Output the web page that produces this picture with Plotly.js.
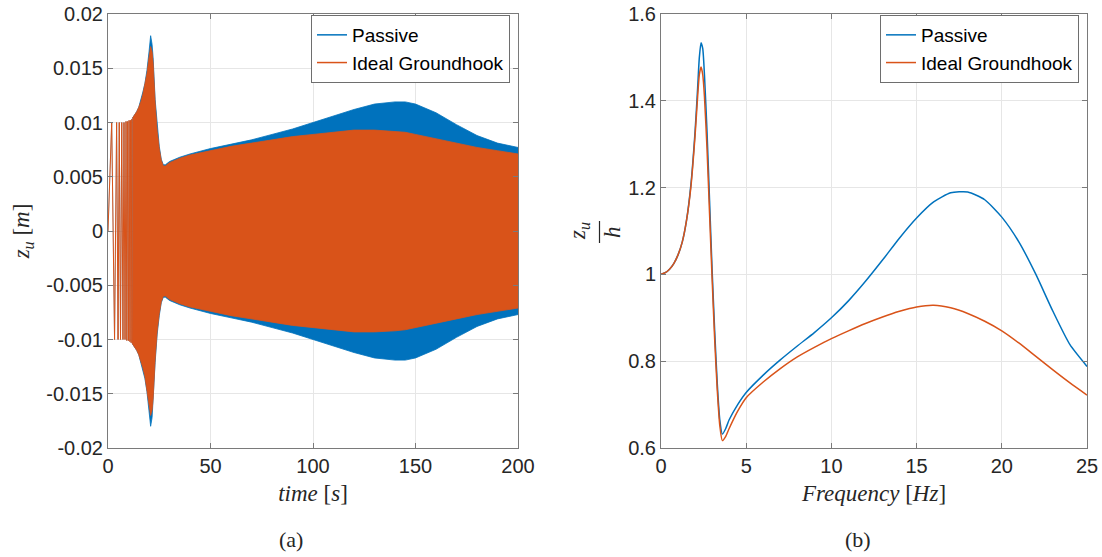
<!DOCTYPE html>
<html>
<head>
<meta charset="utf-8">
<script src="https://cdn.plot.ly/plotly-3.0.1.min.js"></script>
<style>
  html, body { margin: 0; padding: 0; background: #ffffff; }
  #chart { width: 1102px; height: 557px; }
</style>
</head>
<body>
<div id="chart"></div>
<script>
// ---- (a) time response: unsprung displacement envelope under a swept sine ----
// first cycles of the sweep are slow enough to show individually
const earlyTime = [0, 1.8, 3.2, 4.2, 4.9, 5.5, 6.1, 6.7, 7.3, 7.8, 8.3, 8.8, 9.2, 9.6, 10.0, 10.3, 10.7, 11.0, 11.3, 11.6, 11.9];
const earlyDisp = [0, 0.0100, -0.0100, 0.0100, -0.0100, 0.0100, -0.0100, 0.0100, -0.0100, 0.0100, -0.0100, 0.0101, -0.0101, 0.0101, -0.0101, 0.0102, -0.0102, 0.0102, -0.0103, 0.0103, -0.0104];

// amplitude envelope of the dense part of the record
const envTime = [11.9, 13, 14, 15, 16, 17, 18, 19, 20, 20.8, 21.5, 22, 23, 24, 25, 26, 27, 28, 30, 35, 40, 50, 60, 70, 80, 90, 100, 110, 120, 130, 140, 145, 150, 160, 170, 180, 190, 200];
const passiveEnv = [0.0104, 0.0107, 0.0110, 0.0114, 0.0120, 0.0128, 0.0136, 0.0148, 0.0165, 0.0180, 0.0172, 0.0160, 0.0121, 0.0095, 0.0078, 0.0066, 0.0061, 0.0061, 0.0064, 0.0068, 0.0071, 0.0076, 0.0080, 0.0084, 0.0089, 0.0094, 0.0100, 0.0106, 0.0112, 0.0117, 0.0119, 0.0119, 0.0117, 0.0109, 0.0098, 0.0088, 0.0081, 0.0077];
const groundhookEnv = [0.0104, 0.0107, 0.0110, 0.0114, 0.0119, 0.0126, 0.0134, 0.0145, 0.0160, 0.0170, 0.0165, 0.0155, 0.0118, 0.0092, 0.0076, 0.0065, 0.0060, 0.0060, 0.0063, 0.0067, 0.0070, 0.0074, 0.0078, 0.0081, 0.0084, 0.0087, 0.0089, 0.0091, 0.0093, 0.0093, 0.0092, 0.0091, 0.0089, 0.0085, 0.0081, 0.0077, 0.0074, 0.0071];

const timeTicks = [0, 50, 100, 150, 200];
const dispTicks = [-0.02, -0.015, -0.01, -0.005, 0, 0.005, 0.01, 0.015, 0.02];
const dispTickText = ['-0.02', '-0.015', '-0.01', '-0.005', '0', '0.005', '0.01', '0.015', '0.02'];

// ---- (b) transmissibility z_u / h against frequency ----
const freqHz = [0, 0.25, 0.5, 0.75, 1.0, 1.25, 1.5, 1.75, 2.0, 2.15, 2.25, 2.35, 2.45, 2.55, 2.7, 2.85, 3.0, 3.15, 3.3, 3.45, 3.6, 3.8, 4.0, 4.5, 5, 6, 7, 8, 9, 10, 11, 12, 13, 14, 15, 16, 17, 18, 19, 20, 21, 22, 23, 24, 25];
const passiveMag = [1.000, 1.004, 1.012, 1.025, 1.045, 1.075, 1.125, 1.205, 1.330, 1.430, 1.500, 1.534, 1.520, 1.460, 1.330, 1.170, 1.010, 0.870, 0.750, 0.665, 0.632, 0.645, 0.665, 0.700, 0.728, 0.768, 0.803, 0.835, 0.866, 0.900, 0.939, 0.984, 1.033, 1.084, 1.130, 1.167, 1.188, 1.190, 1.172, 1.132, 1.075, 1.000, 0.915, 0.838, 0.788];
const groundhookMag = [1.000, 1.004, 1.012, 1.025, 1.045, 1.075, 1.125, 1.200, 1.320, 1.410, 1.460, 1.478, 1.460, 1.410, 1.290, 1.140, 0.990, 0.850, 0.735, 0.652, 0.617, 0.627, 0.645, 0.685, 0.716, 0.752, 0.783, 0.810, 0.832, 0.852, 0.870, 0.887, 0.902, 0.915, 0.925, 0.929, 0.923, 0.910, 0.892, 0.870, 0.842, 0.811, 0.780, 0.750, 0.722];

const freqTicks = [0, 5, 10, 15, 20, 25];
const magTicks = [0.6, 0.8, 1.0, 1.2, 1.4, 1.6];
const magTickText = ['0.6', '0.8', '1', '1.2', '1.4', '1.6'];

const seriesNames = ['Passive', 'Ideal Groundhook'];
const BLUE = '#0072BD';
const ORANGE = '#D95319';

// closed band between +env and -env
function band(t, env) {
  const x = t.concat(t.slice().reverse());
  const y = env.concat(env.map(v => -v).reverse());
  return { x, y };
}

const pBand = band(envTime, passiveEnv);
const gBand = band(envTime, groundhookEnv);

const traces = [
  { x: pBand.x, y: pBand.y, xaxis: 'x', yaxis: 'y', type: 'scatter', mode: 'lines',
    fill: 'toself', fillcolor: BLUE, line: { color: BLUE, width: 0.8 }, showlegend: false, hoverinfo: 'skip' },
  { x: earlyTime, y: earlyDisp, xaxis: 'x', yaxis: 'y', type: 'scatter', mode: 'lines',
    line: { color: BLUE, width: 0.4 }, showlegend: false },
  { x: gBand.x, y: gBand.y, xaxis: 'x', yaxis: 'y', type: 'scatter', mode: 'lines',
    fill: 'toself', fillcolor: ORANGE, line: { color: ORANGE, width: 0.8 }, showlegend: false, hoverinfo: 'skip' },
  { x: earlyTime, y: earlyDisp, xaxis: 'x', yaxis: 'y', type: 'scatter', mode: 'lines',
    line: { color: ORANGE, width: 1 }, showlegend: false },
  // legend keys for panel (a)
  { x: [null], y: [null], xaxis: 'x', yaxis: 'y', type: 'scatter', mode: 'lines',
    line: { color: BLUE, width: 1.5 }, name: seriesNames[0], legend: 'legend' },
  { x: [null], y: [null], xaxis: 'x', yaxis: 'y', type: 'scatter', mode: 'lines',
    line: { color: ORANGE, width: 1.5 }, name: seriesNames[1], legend: 'legend' },

  { x: freqHz, y: passiveMag, xaxis: 'x2', yaxis: 'y2', type: 'scatter', mode: 'lines',
    line: { color: BLUE, width: 1.5, shape: 'spline', smoothing: 0.6 }, name: seriesNames[0], legend: 'legend2' },
  { x: freqHz, y: groundhookMag, xaxis: 'x2', yaxis: 'y2', type: 'scatter', mode: 'lines',
    line: { color: ORANGE, width: 1.5, shape: 'spline', smoothing: 0.6 }, name: seriesNames[1], legend: 'legend2' }
];

const W = 1102, H = 557;
const px = v => v / W;
const py = v => 1 - v / H;

const tickFont = { family: 'Liberation Sans, Arial, sans-serif', size: 20, color: '#262626' };
const serif = 'Liberation Serif, DejaVu Serif, serif';

function axisBase(extra) {
  return Object.assign({
    showline: true, linecolor: '#7a7a7a', linewidth: 1, mirror: 'allticks',
    ticks: 'inside', ticklen: 5, tickcolor: '#7a7a7a', tickwidth: 1,
    showgrid: true, gridcolor: '#e6e6e6', gridwidth: 1,
    zeroline: false, tickfont: tickFont, fixedrange: true
  }, extra);
}

const legendBase = {
  xref: 'paper', yref: 'paper', xanchor: 'right', yanchor: 'top',
  bgcolor: '#ffffff', bordercolor: '#6e6e6e', borderwidth: 1,
  font: { family: 'Liberation Sans, Arial, sans-serif', size: 19, color: '#000000' },
  tracegroupgap: 0, itemwidth: 30
};

const annFont = { family: serif, size: 23, color: '#262626' };

const layout = {
  width: W, height: H,
  margin: { l: 0, r: 0, t: 0, b: 0 },
  paper_bgcolor: '#ffffff', plot_bgcolor: '#ffffff',
  showlegend: true,
  xaxis: axisBase({ domain: [px(108), px(518)], range: [0, 200], tickvals: timeTicks, anchor: 'y',
    title: { text: '<i>time</i> [<i>s</i>]', font: { family: serif, size: 23, color: '#262626' }, standoff: 8 } }),
  yaxis: axisBase({ domain: [py(448), py(14)], range: [-0.02, 0.02], tickvals: dispTicks, ticktext: dispTickText, anchor: 'x',
    title: { text: '<i>z<sub>u</sub></i> [<i>m</i>]', font: { family: serif, size: 23, color: '#262626' }, standoff: 10 } }),
  xaxis2: axisBase({ domain: [px(661), px(1087)], range: [0, 25], tickvals: freqTicks, anchor: 'y2',
    title: { text: '<i>Frequency</i> [<i>Hz</i>]', font: { family: serif, size: 23, color: '#262626' }, standoff: 8 } }),
  yaxis2: axisBase({ domain: [py(448), py(14)], range: [0.6, 1.6], tickvals: magTicks, ticktext: magTickText, anchor: 'x2' }),
  legend: Object.assign({}, legendBase, { x: px(510), y: py(15) }),
  legend2: Object.assign({}, legendBase, { x: px(1079), y: py(15) }),
  annotations: [
    { xref: 'paper', yref: 'paper', x: px(291), y: py(539), xanchor: 'center', yanchor: 'middle',
      text: '(a)', showarrow: false, font: { family: serif, size: 22, color: '#262626' } },
    { xref: 'paper', yref: 'paper', x: px(858), y: py(539), xanchor: 'center', yanchor: 'middle',
      text: '(b)', showarrow: false, font: { family: serif, size: 22, color: '#262626' } },
    // fraction z_u / h as the left label of panel (b)
    { xref: 'paper', yref: 'paper', x: px(579), y: py(231), xanchor: 'center', yanchor: 'middle',
      textangle: -90, showarrow: false, text: '<i>z<sub>u</sub></i>', font: annFont },
    { xref: 'paper', yref: 'paper', x: px(613), y: py(232), xanchor: 'center', yanchor: 'middle',
      textangle: -90, showarrow: false, text: '<i>h</i>', font: annFont }
  ],
  shapes: [
    { type: 'line', xref: 'paper', yref: 'paper', x0: px(599.5), x1: px(599.5), y0: py(221), y1: py(243),
      line: { color: '#262626', width: 1.2 } }
  ]
};

Plotly.newPlot('chart', traces, layout, { displayModeBar: false, staticPlot: true });
</script>
</body>
</html>
